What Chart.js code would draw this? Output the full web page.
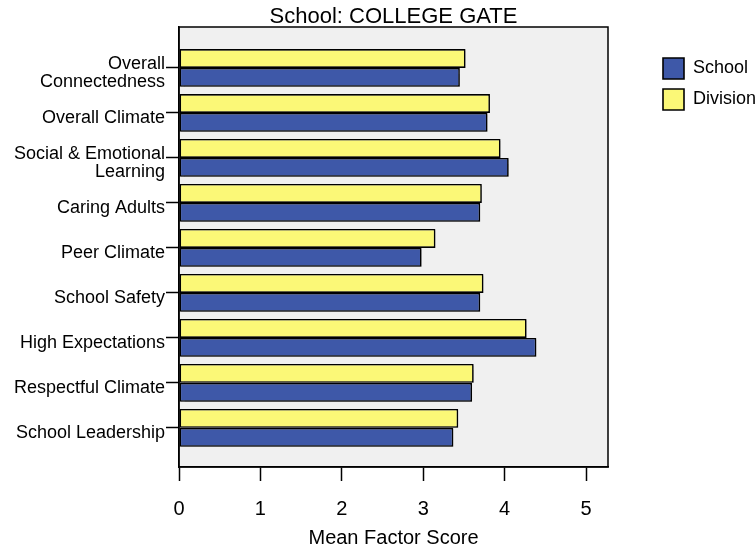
<!DOCTYPE html>
<html lang="en">
<head>
<meta charset="UTF-8">
<title>School: COLLEGE GATE</title>
<script src="https://cdn.jsdelivr.net/npm/chart.js"></script>
<style>
  html, body { margin: 0; padding: 0; background: #fff; }
  #wrap { width: 756px; height: 548px; }
</style>
</head>
<body>
<div id="wrap"><canvas id="factorChart"></canvas></div>
<script>
    // categories, top to bottom
    const categories = [
        ['Overall', 'Connectedness'],
        'Overall Climate',
        ['Social & Emotional', 'Learning'],
        'Caring Adults',
        'Peer Climate',
        'School Safety',
        'High Expectations',
        'Respectful Climate',
        'School Leadership'
    ];
    const schoolScores   = [3.45, 3.79, 4.05, 3.70, 2.98, 3.70, 4.39, 3.60, 3.37];
    const divisionScores = [3.52, 3.82, 3.95, 3.72, 3.15, 3.74, 4.27, 3.62, 3.43];
    const xTicks = [0, 1, 2, 3, 4, 5];

    Chart.defaults.font.family = "'Liberation Sans', Arial, sans-serif";
    Chart.defaults.color = '#000';

    // gray plot area with a frame, like the original
    const plotFrame = {
        id: 'plotFrame',
        beforeDraw(chart) {
            const {ctx, chartArea: a} = chart;
            ctx.save();
            ctx.fillStyle = '#f0f0f0';
            ctx.fillRect(a.left, a.top, a.width, a.height);
            ctx.restore();
        },
        beforeDatasetsDraw(chart) {
            const {ctx, chartArea: a} = chart;
            ctx.save();
            ctx.strokeStyle = '#000';
            ctx.lineWidth = 1.5;
            ctx.strokeRect(a.left, a.top, a.width, a.height);
            ctx.restore();
            // soft drop shadow under the bars
            ctx.shadowColor = 'rgba(0,0,0,0.25)';
            ctx.shadowOffsetX = 1.5;
            ctx.shadowOffsetY = 1.5;
            ctx.shadowBlur = 1;
        },
        afterDatasetsDraw(chart) {
            const ctx = chart.ctx;
            ctx.shadowColor = 'rgba(0,0,0,0)';
            ctx.shadowOffsetX = 0;
            ctx.shadowOffsetY = 0;
            ctx.shadowBlur = 0;
        },
        afterLayout(chart) {
            // move legend away from the plot, down to the first bars
            const lg = chart.legend;
            const a = chart.chartArea;
            const h = lg.bottom - lg.top;
            lg.left = a.right + 45;
            lg.right = chart.width;
            lg.top = a.top + 21;
            lg.bottom = lg.top + h;
        }
    };

    const ctx = document.getElementById('factorChart').getContext('2d');
    new Chart(ctx, {
        type: 'bar',
        data: {
            datasets: [{
                label: 'Division',
                data: divisionScores.map((v, i) => ({x: v, y: i})),
                backgroundColor: '#fbf877',
                borderColor: '#000',
                borderWidth: 1.6,
                borderSkipped: false
            }, {
                label: 'School',
                data: schoolScores.map((v, i) => ({x: v, y: i})),
                backgroundColor: '#3e58a8',
                borderColor: '#000',
                borderWidth: 1.6,
                borderSkipped: false
            }]
        },
        options: {
            indexAxis: 'y',
            responsive: true,
            maintainAspectRatio: false,
            animation: false,
            categoryPercentage: 0.84,
            barPercentage: 1,
            layout: { padding: { left: 10, right: 48, top: 0, bottom: 0 } },
            scales: {
                x: {
                    type: 'linear',
                    position: 'bottom',
                    min: 0,
                    max: 5.27,
                    afterBuildTicks: s => { s.ticks = xTicks.map(v => ({value: v})); },
                    afterFit: s => { s.height = 81; },
                    grid: { drawOnChartArea: false, tickLength: 14, tickColor: '#000', tickWidth: 1.5 },
                    border: { color: '#000', width: 1.5 },
                    ticks: { color: '#000', padding: 16, font: { size: 20 } },
                    title: {
                        display: true,
                        text: 'Mean Factor Score',
                        color: '#000',
                        font: { size: 20, lineHeight: 1 },
                        padding: 0
                    }
                },
                y: {
                    type: 'linear',
                    reverse: true,
                    offset: false,
                    min: -0.91,
                    max: 8.87,
                    afterBuildTicks: s => { s.ticks = categories.map((c, i) => ({value: i})); },
                    afterFit: s => { s.width = 169; },
                    grid: { offset: false, drawOnChartArea: false, tickLength: 13, tickColor: '#000', tickWidth: 1.5 },
                    border: { color: '#000', width: 1.5 },
                    ticks: {
                        color: '#000',
                        padding: 1,
                        labelOffset: 5,
                        font: { size: 18, lineHeight: 1.02 },
                        callback: v => categories[v]
                    }
                }
            },
            plugins: {
                title: {
                    display: true,
                    text: 'School: COLLEGE GATE',
                    fullSize: false,
                    color: '#000',
                    font: { size: 22, weight: 'normal', lineHeight: 1 },
                    padding: { top: 6, bottom: -1 }
                },
                legend: {
                    position: 'right',
                    align: 'start',
                    reverse: true,
                    maxWidth: 100,
                    labels: {
                        boxWidth: 21,
                        boxHeight: 21,
                        padding: 10,
                        color: '#000',
                        font: { size: 18 }
                    }
                },
                tooltip: { enabled: false }
            }
        },
        plugins: [plotFrame]
    });
</script>
</body>
</html>
